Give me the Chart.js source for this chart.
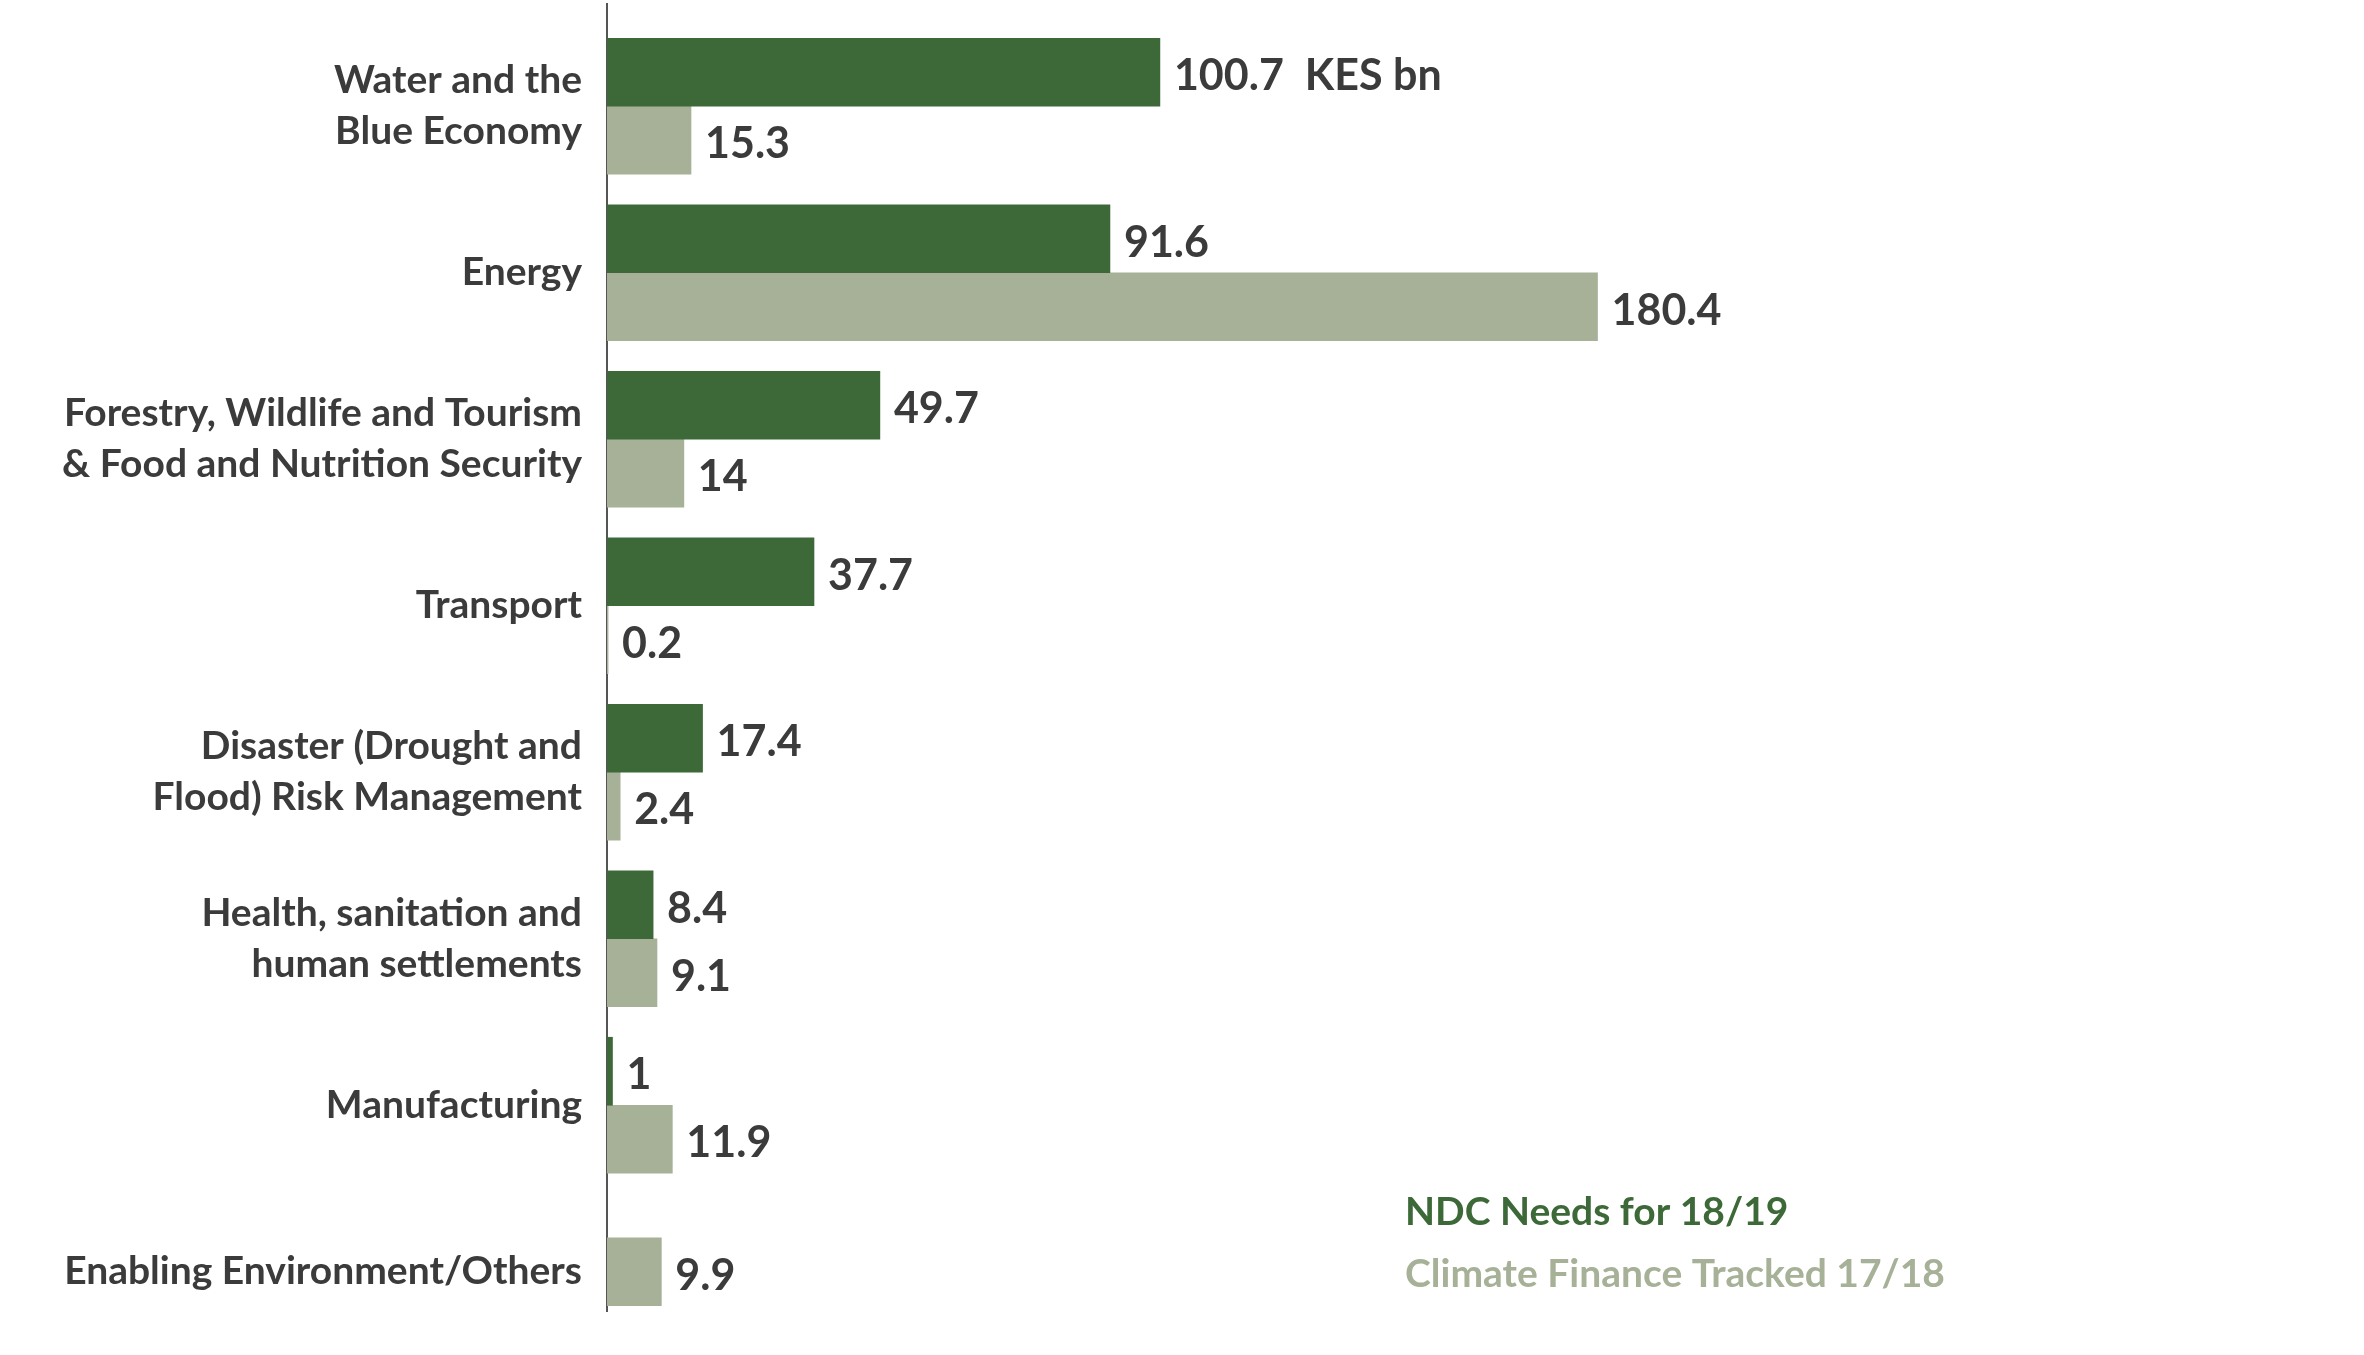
<!DOCTYPE html>
<html>
<head>
<meta charset="utf-8">
<script src="https://cdn.jsdelivr.net/npm/chart.js@4.4.0/dist/chart.umd.min.js"></script>
<style>
  body { margin: 0; background: #fff; }
  #wrap { width: 2364px; height: 1355px; }
</style>
</head>
<body>
<div id="wrap"><canvas id="financeChart"></canvas></div>
<script>
// Sectors (y axis)
const sectors = [
  ['Water and the', 'Blue Economy'],
  'Energy',
  ['Forestry, Wildlife and Tourism', '& Food and Nutrition Security'],
  'Transport',
  ['Disaster (Drought and', 'Flood) Risk Management'],
  ['Health, sanitation and', 'human settlements'],
  'Manufacturing',
  'Enabling Environment/Others'
];

// KES bn
const ndcNeeds = [100.7, 91.6, 49.7, 37.7, 17.4, 8.4, 1, null];
const financeTracked = [15.3, 180.4, 14, 0.2, 2.4, 9.1, 11.9, 9.9];

const seriesNames = ['NDC Needs for 18/19', 'Climate Finance Tracked 17/18'];
const unitSuffix = '  KES bn';

const DARK = '#3c6937';
const LIGHT = '#a6b198';
const TEXT = '#3b3b3b';
const FONT = 'Lato';

// value labels next to each bar
const valueLabels = {
  id: 'valueLabels',
  afterDatasetsDraw(chart) {
    const ctx = chart.ctx;
    ctx.save();
    ctx.font = 'bold 43px ' + FONT;
    ctx.fillStyle = TEXT;
    ctx.textAlign = 'left';
    ctx.textBaseline = 'middle';
    chart.data.datasets.forEach((ds, di) => {
      chart.getDatasetMeta(di).data.forEach((bar, i) => {
        const v = ds.data[i];
        if (v === null) return;
        let txt = String(v);
        if (di === 0 && i === 0) txt += unitSuffix;
        ctx.fillText(txt, bar.x + 14, bar.y + 4);
      });
    });
    ctx.restore();
  }
};

// vertical axis line under the bars
const axisLine = {
  id: 'axisLine',
  beforeDatasetsDraw(chart) {
    const ctx = chart.ctx;
    const x0 = chart.scales.x.getPixelForValue(0);
    ctx.save();
    ctx.strokeStyle = '#555555';
    ctx.lineWidth = 2;
    ctx.beginPath();
    ctx.moveTo(x0, 3);
    ctx.lineTo(x0, 1312);
    ctx.stroke();
    ctx.restore();
  }
};

// legend as coloured text only
const textLegend = {
  id: 'textLegend',
  afterDraw(chart) {
    const ctx = chart.ctx;
    ctx.save();
    ctx.font = 'bold 39px ' + FONT;
    ctx.textAlign = 'left';
    ctx.textBaseline = 'alphabetic';
    chart.data.datasets.forEach((ds, di) => {
      ctx.fillStyle = ds.backgroundColor;
      ctx.fillText(ds.label, 1405, 1225 + di * 62);
    });
    ctx.restore();
  }
};

new Chart(document.getElementById('financeChart'), {
  type: 'bar',
  data: {
    labels: sectors,
    datasets: [
      { label: seriesNames[0], data: ndcNeeds, backgroundColor: DARK },
      { label: seriesNames[1], data: financeTracked, backgroundColor: LIGHT }
    ]
  },
  options: {
    indexAxis: 'y',
    responsive: true,
    maintainAspectRatio: false,
    animation: false,
    skipNull: true,
    barThickness: 68,
    layout: { padding: { top: 23, right: 0, bottom: 0, left: 0 } },
    plugins: {
      legend: { display: false },
      tooltip: { enabled: false }
    },
    scales: {
      x: {
        display: false,
        min: 0,
        max: 320
      },
      y: {
        grid: { display: false, drawTicks: false },
        border: { display: false },
        ticks: {
          color: TEXT,
          padding: 25,
          font: { family: FONT, size: 39, weight: 'bold', lineHeight: 1.3 }
        },
        afterFit(scale) {
          scale.width = 607;
          scale.paddingTop = 0;
          scale.paddingBottom = 0;
        }
      }
    }
  },
  plugins: [valueLabels, axisLine, textLegend]
});
</script>
</body>
</html>
